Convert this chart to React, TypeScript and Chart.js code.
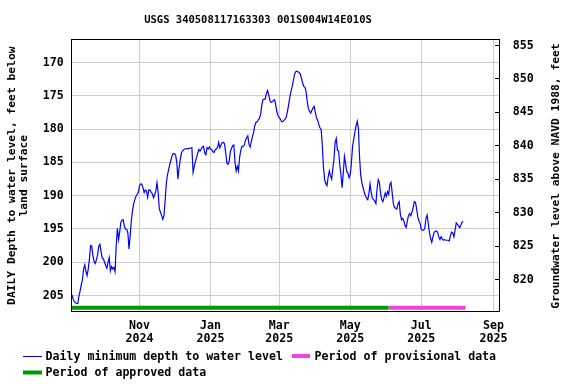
import React, { useEffect, useRef } from 'react';
import { Chart, registerables } from 'chart.js';

Chart.register(...registerables);

const TITLE = 'USGS 340508117163303 001S004W14E010S';
const LEFT_TITLE = ['DAILY Depth to water level, feet below', 'land surface'];
const RIGHT_TITLE = 'Groundwater level above NAVD 1988, feet';
const LEGEND_LABELS = [
  'Daily minimum depth to water level',
  'Period of provisional data',
  'Period of approved data',
];

const BASE_DATE = '2024-09-01';
const FIRST_DATE = '2024-09-04';

// daily minimum depth to water level, feet below land surface (one value per day from FIRST_DATE)
const depths = [
  204.9, 205.55, 205.9, 206.1, 206.2, 206.2, 205.1, 204.3, 203.4, 202.6,
  201.0, 200.4, 201.4, 202.0, 201.0, 199.5, 197.5, 197.6, 199.0, 199.9,
  200.2, 199.6, 198.9, 197.6, 197.3, 198.4, 199.4, 199.5, 200.0, 200.5,
  200.9, 200.0, 199.3, 201.3, 200.65, 201.0, 200.8, 201.4, 197.5, 194.9,
  196.6, 195.4, 194.0, 193.7, 193.6, 194.6, 195.05, 195.05, 195.6, 198.0,
  196.0, 193.7, 192.25, 191.2, 190.6, 190.1, 189.8, 189.5, 188.5, 188.25,
  188.3, 188.8, 189.55, 189.15, 189.3, 190.25, 189.1, 189.15, 189.5, 189.7,
  190.3, 189.9, 189.3, 188.05, 189.5, 192.0, 192.5, 193.0, 193.55, 193.0,
  190.8, 188.2, 186.9, 186.1, 185.3, 184.65, 184.0, 183.7, 183.7, 183.9,
  185.0, 187.5, 185.8, 184.6, 183.6, 183.3, 183.1, 183.0, 182.95, 182.9,
  182.95, 182.9, 182.85, 182.8, 186.5, 185.6, 184.9, 184.3, 183.6, 183.05,
  183.3, 183.0, 182.7, 182.6, 183.6, 183.85, 182.8, 183.0, 182.7, 183.0,
  183.1, 183.4, 183.5, 183.1, 183.0, 182.8, 182.0, 182.8, 182.4, 182.1,
  182.0, 182.2, 183.5, 185.1, 185.3, 184.8, 183.4, 182.9, 182.5, 182.4,
  185.0, 186.3, 185.6, 186.3, 184.2, 183.2, 182.6, 182.6, 182.4, 181.7,
  181.3, 181.0, 182.3, 182.7, 181.9, 181.1, 180.5, 179.5, 179.0, 178.9,
  178.6, 178.4, 177.8, 176.4, 175.6, 175.5, 175.5, 174.6, 174.2, 174.9,
  175.7, 176.0, 175.9, 175.7, 175.6, 176.4, 177.4, 178.0, 178.3, 178.5,
  178.9, 178.9, 178.7, 178.5, 178.2, 177.4, 176.4, 175.3, 174.4, 173.7,
  172.8, 171.9, 171.4, 171.3, 171.4, 171.5, 171.7, 172.3, 173.0, 173.6,
  173.7, 174.3, 175.8, 176.9, 177.3, 177.6, 177.2, 176.8, 176.6, 177.5,
  178.3, 178.7, 179.3, 179.8, 180.1, 182.5, 185.8, 187.6, 188.2, 188.5,
  187.2, 186.3, 187.0, 187.5, 186.0, 184.5, 182.0, 181.4, 183.2, 183.3,
  185.4, 186.9, 188.8, 186.6, 184.1, 185.2, 186.4, 186.6, 187.3, 186.8,
  185.0, 182.5, 181.5, 180.4, 179.5, 178.85, 180.0, 184.3, 187.0, 188.1,
  188.8, 189.5, 190.0, 190.4, 190.6, 189.7, 188.2, 189.6, 190.4, 190.6,
  190.8, 191.2, 189.0, 187.6, 188.0, 189.6, 190.6, 190.9, 190.3, 189.6,
  190.1, 189.4, 189.8, 188.3, 188.0, 189.6, 191.2, 191.8, 191.9, 192.0,
  191.2, 190.9, 192.8, 193.6, 193.4, 193.8, 194.5, 194.8, 193.8, 193.0,
  192.7, 193.0, 192.5, 191.8, 190.9, 191.0, 192.0, 193.2, 193.8, 194.2,
  195.1, 195.2, 195.2, 194.9, 193.4, 192.9, 194.2, 195.6, 196.4, 197.0,
  196.2, 195.5, 195.4, 195.3, 195.5, 196.2, 196.6, 196.2, 196.5, 196.7,
  196.6, 196.7, 196.7, 196.7, 196.8, 196.0, 195.5, 195.6, 196.2, 195.2,
  194.1, 194.3, 194.6, 194.8, 194.4, 194.0, 193.9,
];

const tickDates = ['2024-11-01', '2025-01-01', '2025-03-01', '2025-05-01', '2025-07-01', '2025-09-01'];
const tickMonths = ['Nov', 'Jan', 'Mar', 'May', 'Jul', 'Sep'];
const tickYears = ['2024', '2025', '2025', '2025', '2025', '2025'];

const depthTicks = [170, 175, 180, 185, 190, 195, 200, 205];
const elevTicks = [820, 825, 830, 835, 840, 845, 850, 855];

const approvedPeriod = ['2024-09-03', '2025-06-03'];
const provisionalPeriod = ['2025-06-03', '2025-08-08'];
const PERIOD_BAR_DEPTH = 206.83;

const X_RANGE = [2.17, 370.58]; // days after BASE_DATE
const DEPTH_RANGE = [166.47, 207.48];
const ELEV_RANGE = [815.14, 855.97];

const LINE_COLOR = '#0000ff';
const APPROVED_COLOR = '#009900';
const PROVISIONAL_COLOR = '#f542dc';
const GRID_COLOR = '#cccccc';
const FONT_FAMILY = '"DejaVu Sans Mono", monospace';

const dayOf = (s: string) => (Date.parse(s) - Date.parse(BASE_DATE)) / 86400000;

const decorPlugin = {
  id: 'decor',
  afterDraw(chart: any) {
    const { ctx, chartArea: a, scales } = chart;
    ctx.save();
    // inner tick marks of the right axis
    const y2 = scales.y2;
    ctx.strokeStyle = '#000';
    ctx.lineWidth = 1;
    ctx.beginPath();
    y2.ticks.forEach((t: any) => {
      const py = Math.floor(y2.getPixelForValue(t.value)) + 0.5;
      ctx.moveTo(a.right - 5, py);
      ctx.lineTo(a.right, py);
    });
    ctx.stroke();
    // frame
    ctx.strokeRect(a.left + 0.5, a.top + 0.5, a.right - a.left - 1, a.bottom - a.top - 1);

    ctx.fillStyle = '#000';
    ctx.textBaseline = 'middle';
    // title
    ctx.font = `bold 10.5px ${FONT_FAMILY}`;
    ctx.textAlign = 'center';
    ctx.fillText(TITLE, 258, 20.5);

    // axis titles
    ctx.font = `bold 11.3px ${FONT_FAMILY}`;
    ctx.save();
    ctx.translate(12, 175.7);
    ctx.rotate(-Math.PI / 2);
    ctx.fillText(LEFT_TITLE[0], 0, 0);
    ctx.fillText(LEFT_TITLE[1], 0, 12.5);
    ctx.restore();
    ctx.save();
    ctx.translate(556, 176);
    ctx.rotate(-Math.PI / 2);
    ctx.fillText(RIGHT_TITLE, 0, 0);
    ctx.restore();

    // legend
    ctx.font = `bold 11.6px ${FONT_FAMILY}`;
    ctx.textAlign = 'left';
    ctx.strokeStyle = LINE_COLOR;
    ctx.beginPath();
    ctx.moveTo(23, 356.5);
    ctx.lineTo(42, 356.5);
    ctx.stroke();
    ctx.fillStyle = '#000';
    ctx.fillText(LEGEND_LABELS[0], 45.6, 357);
    ctx.fillStyle = PROVISIONAL_COLOR;
    ctx.fillRect(292, 354, 18, 4);
    ctx.fillStyle = '#000';
    ctx.fillText(LEGEND_LABELS[1], 314.6, 357);
    ctx.fillStyle = APPROVED_COLOR;
    ctx.fillRect(23, 370.5, 19, 4);
    ctx.fillStyle = '#000';
    ctx.fillText(LEGEND_LABELS[2], 45.6, 373);
    ctx.restore();
  },
};

export default function App() {
  const ref = useRef<HTMLCanvasElement | null>(null);

  useEffect(() => {
    if (!ref.current) return;
    const firstDay = dayOf(FIRST_DATE);
    const lineData = depths.map((v, i) => ({ x: firstDay + i, y: v }));
    const approved = approvedPeriod.map((d) => ({ x: dayOf(d), y: PERIOD_BAR_DEPTH }));
    const provisional = provisionalPeriod.map((d) => ({ x: dayOf(d), y: PERIOD_BAR_DEPTH }));
    const tickDays = tickDates.map(dayOf);
    const tickFont = { family: FONT_FAMILY, weight: 'bold' as const, size: 11.6 };

    const chart = new Chart(ref.current, {
      type: 'line',
      data: {
        datasets: [
          {
            label: LEGEND_LABELS[0],
            data: lineData,
            borderColor: LINE_COLOR,
            borderWidth: 1.2,
            pointRadius: 0,
            fill: false,
            tension: 0,
            xAxisID: 'x',
            yAxisID: 'y',
          },
          {
            label: LEGEND_LABELS[1],
            data: provisional,
            borderColor: PROVISIONAL_COLOR,
            borderWidth: 4,
            borderCapStyle: 'butt',
            pointRadius: 0,
            fill: false,
            xAxisID: 'x',
            yAxisID: 'y',
          },
          {
            label: LEGEND_LABELS[2],
            data: approved,
            borderColor: APPROVED_COLOR,
            borderWidth: 4,
            borderCapStyle: 'butt',
            pointRadius: 0,
            fill: false,
            xAxisID: 'x',
            yAxisID: 'y',
          },
        ],
      },
      options: {
        animation: false,
        responsive: false,
        devicePixelRatio: 1,
        layout: { padding: { top: 39, left: 0, right: 0, bottom: 0 } },
        plugins: {
          legend: { display: false },
          title: { display: false },
          tooltip: { enabled: false },
        },
        scales: {
          x: {
            type: 'linear',
            position: 'bottom',
            min: X_RANGE[0],
            max: X_RANGE[1],
            afterBuildTicks: (s: any) => {
              s.ticks = tickDays.map((v) => ({ value: v }));
            },
            afterFit: (s: any) => {
              s.height = 72;
            },
            grid: { color: GRID_COLOR, lineWidth: 1, drawTicks: false },
            border: { display: false },
            ticks: {
              autoSkip: false,
              maxRotation: 0,
              minRotation: 0,
              padding: 7.35,
              color: '#000',
              font: { ...tickFont, lineHeight: 13.3 / 11.6 },
              callback: (_v: any, i: number) => [tickMonths[i], tickYears[i]],
            },
          },
          y: {
            type: 'linear',
            position: 'left',
            reverse: true,
            min: DEPTH_RANGE[0],
            max: DEPTH_RANGE[1],
            afterBuildTicks: (s: any) => {
              s.ticks = depthTicks.map((v) => ({ value: v }));
            },
            afterFit: (s: any) => {
              s.width = 71;
            },
            grid: { color: GRID_COLOR, lineWidth: 1, drawTicks: false },
            border: { display: false },
            ticks: {
              padding: 7.2,
              color: '#000',
              font: tickFont,
              callback: (v: any) => String(v),
            },
          },
          y2: {
            type: 'linear',
            position: 'right',
            min: ELEV_RANGE[0],
            max: ELEV_RANGE[1],
            afterBuildTicks: (s: any) => {
              s.ticks = elevTicks.map((v) => ({ value: v }));
            },
            afterFit: (s: any) => {
              s.width = 76;
            },
            grid: { drawOnChartArea: false, drawTicks: false },
            border: { display: false },
            ticks: {
              padding: 12.8,
              color: '#000',
              font: tickFont,
              callback: (v: any) => String(v),
            },
          },
        },
      },
      plugins: [decorPlugin],
    });
    return () => chart.destroy();
  }, []);

  return (
    <div style={{ position: 'absolute', left: 0, top: 0, width: 576, height: 384, background: '#fff' }}>
      <canvas ref={ref} width={576} height={384} style={{ display: 'block' }} />
    </div>
  );
}
